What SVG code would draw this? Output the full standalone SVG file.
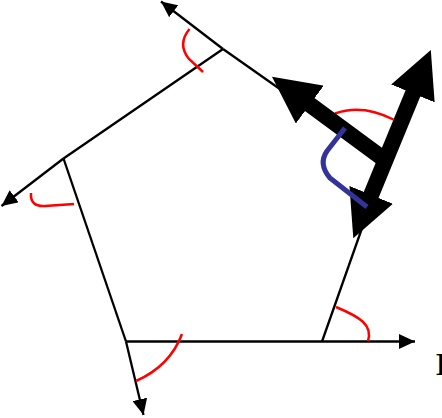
<svg xmlns="http://www.w3.org/2000/svg" width="442" height="418" viewBox="0 0 442 418">
  <defs>
    <marker id="thin" markerUnits="userSpaceOnUse" markerWidth="16" markerHeight="15" viewBox="0 0 16 15" refX="16" refY="7.5" orient="auto">
      <path d="M0,0 L16,7.5 L0,15 z" fill="#000"/>
    </marker>
    <marker id="thick" markerUnits="userSpaceOnUse" markerWidth="47" markerHeight="47" viewBox="0 0 47 47" refX="1" refY="23.5" orient="auto-start-reverse">
      <path d="M0,0 L47,23.5 L0,47 z" fill="#000"/>
    </marker>
    <style>
      .edge { fill: none; stroke: #000; stroke-width: 2.3; }
      .ext { fill: none; stroke: #000; stroke-width: 2.3; marker-end: url(#thin); }
      .angle { fill: none; stroke: #ff0000; stroke-width: 2.5; }
      .vec { fill: none; stroke: #000; stroke-width: 16; }
      .turn { fill: none; stroke: #333399; stroke-width: 5; stroke-linejoin: round; }
      .label { font-family: "Liberation Serif", "Times New Roman", serif; font-weight: bold; font-size: 32px; fill: #000; }
    </style>
  </defs>
  <rect width="442" height="418" fill="#fff"/>

  <g id="connectors">
    <path class="edge" d="M223,49 L385,163"/>
    <path class="edge" d="M63.5,158.5 L223,49"/>
    <path class="edge" d="M63.5,158.5 L126,341.5"/>
    <path class="edge" d="M322,341.5 L385,163"/>
    <path class="ext" d="M223,49 L161,1.5"/>
    <path class="ext" d="M63.5,158.5 L1.5,206"/>
    <path class="ext" d="M126,341.5 L143.5,415"/>
    <path class="ext" d="M126,341.5 L415,341.5"/>
  </g>

  <g id="angle-top">
    <path class="angle" d="M189.5,29 Q177,44 189,59 L203,72"/>
  </g>
  <g id="angle-left">
    <path class="angle" d="M31,193 Q30,207 45,206 L74,204"/>
  </g>
  <g id="angle-bottom-left">
    <path class="angle" d="M182,334 Q170,366 136,381"/>
  </g>
  <g id="angle-bottom-right">
    <path class="angle" d="M336,307 C360,317 373,325 368,341"/>
  </g>
  <g id="angle-right">
    <path class="angle" d="M335,113.5 Q362,103.5 393.5,119.5"/>
  </g>

  <g id="vector-back">
    <path class="vec" d="M385,160 L309,104" marker-end="url(#thick)"/>
  </g>
  <g id="vector-double">
    <path class="vec" d="M370.8,195.8 L413.3,92.5" marker-start="url(#thick)" marker-end="url(#thick)"/>
  </g>
  <g id="turn-arc">
    <path class="turn" d="M345,128 L327,151 Q318,164 330,178 L367,207"/>
  </g>

  <g id="label">
    <text class="label" x="435.5" y="375">I</text>
  </g>
</svg>
